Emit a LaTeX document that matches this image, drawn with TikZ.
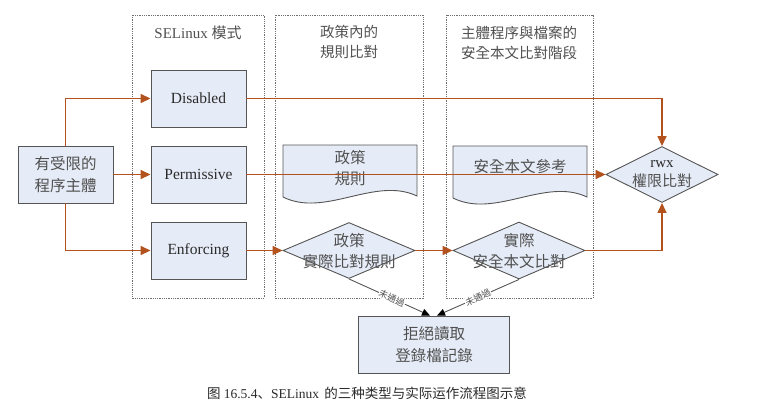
\documentclass[tikz,border=0pt]{standalone}
\usepackage{fontspec}
\setmainfont{Liberation Serif}
\newfontfamily\cjk{Noto Sans CJK TC}
\newfontfamily\cjksc{Noto Sans CJK SC}
\usetikzlibrary{arrows.meta,shapes.geometric,calc}
\definecolor{boxfill}{HTML}{E6ECF7}
\definecolor{boxline}{HTML}{555555}
\definecolor{flowc}{HTML}{B4521E}
\definecolor{txtc}{HTML}{2A2A2A}
\definecolor{cjkc}{HTML}{505050}
\definecolor{panelc}{HTML}{707070}
\begin{document}
\begin{tikzpicture}[x=1pt,y=-1pt,
  box/.style={draw=boxline, fill=boxfill, line width=0.9pt, rectangle, inner sep=0pt},
  dia/.style={draw=boxline, fill=boxfill, line width=0.9pt, diamond, inner sep=0pt},
  docshape/.style={draw=boxline, fill=boxfill, line width=0.9pt},
  panel/.style={draw=panelc, line width=0.7pt, dash pattern=on 0.9pt off 0.9pt},
  flow/.style={draw=flowc, line width=1.5pt, -{Triangle[length=10pt,width=9pt]}},
  denyarrow/.style={draw=boxline, line width=0.9pt, -{Triangle[length=8pt,width=7pt,fill=black,color=black]}},
  lat/.style={font=\fontsize{15.5}{20}\selectfont, text=txtc, align=center},
  zh/.style={font=\cjk\fontsize{15.5}{21.5}\selectfont, text=cjkc, align=center},
  title/.style={font=\cjk\fontsize{14.5}{20}\selectfont, text=cjkc, align=center},
  fail/.style={font=\cjk\fontsize{9}{10}\selectfont, text=cjkc, fill=white, inner sep=0.6pt},
]
\path[use as bounding box] (0,0) rectangle (757,408);

% panels
\draw[panel] (132,15) rectangle (264,298);
\draw[panel] (275,15) rectangle (423,298);
\draw[panel] (446,15) rectangle (593,298);
\node[lat, font=\fontsize{15}{20}\selectfont, text=cjkc] (t1) at (198,33) {SELinux {\cjk 模式}};
\node[title] (t2) at (349,42) {政策內的\\規則比對};
\node[title] (t3) at (519,42.5) {主體程序與檔案的\\安全本文比對階段};

% documents
\path[docshape] (283,145) -- (417,145) -- (417,196)
  .. controls (375,176) and (325,218) .. (283,197) -- cycle;
\node[zh] (pdoc) at (350,168) {政策\\規則};
\path[docshape] (453,146) -- (587,146) -- (587,197)
  .. controls (545,177) and (495,219) .. (453,198) -- cycle;
\node[zh] (cdoc) at (520,167) {安全本文參考};

% boxes
\node[box, zh, minimum width=95pt, minimum height=57pt] (subj) at (65.5,174.5) {有受限的\\程序主體};
\node[box, lat, minimum width=95pt, minimum height=57pt] (dis) at (198.5,98.5) {Disabled};
\node[box, lat, minimum width=95pt, minimum height=57pt] (perm) at (198.5,174.5) {Permissive};
\node[box, lat, minimum width=95pt, minimum height=57pt] (enf) at (198.5,250.5) {Enforcing};
\node[box, zh, minimum width=151pt, minimum height=57pt] (deny) at (434,344.5) {拒絕讀取\\登錄檔記錄};

% diamonds
\node[dia, minimum width=132pt, minimum height=56pt] (pd) at (349,250.5) {};
\node[zh] (pdt) at (349,251) {政策\\實際比對規則};
\node[dia, minimum width=132pt, minimum height=57pt] (cd) at (519,250.5) {};
\node[zh] (cdt) at (519,251) {實際\\安全本文比對};
\node[dia, minimum width=112pt, minimum height=56pt] (rwx) at (662,174.5) {};
\node[lat, font=\fontsize{15}{19}\selectfont] (rwxt) at (662,174) {rwx\\{\cjk\color{cjkc}權限比對}};

% flow connectors
\draw[flow] (subj.north) |- (dis.west);
\draw[flow] (subj.east) -- (perm.west);
\draw[flow] (subj.south) |- (enf.west);
\draw[flow] (dis.east) -| (rwx.north);
\draw[flow] (perm.east) -- (rwx.west);
\draw[flow] (enf.east) -- (pd.west);
\draw[flow] (pd.east) -- (cd.west);
\draw[flow] (cd.east) -| (rwx.south);

% deny connectors
\draw[denyarrow] (pd.south) -- node[fail, sloped, pos=0.53] {未通過} ($(deny.north)+(-4,0)$);
\draw[denyarrow] (cd.south) -- node[fail, sloped, pos=0.5] {未通過} ($(deny.north)+(3,0)$);

% caption
\node[font=\cjksc\fontsize{13.5}{16}\selectfont, text=txtc] (cap) at (367,393) {图 {\rmfamily 16.5.4}、{\rmfamily SELinux}\, 的三种类型与实际运作流程图示意};
\end{tikzpicture}
\end{document}
